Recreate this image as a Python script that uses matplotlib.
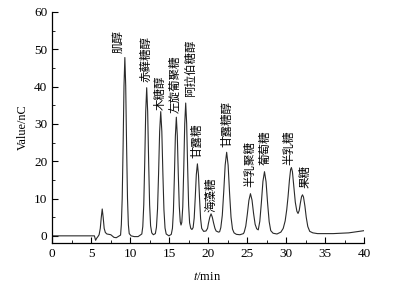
import matplotlib
matplotlib.use("Agg")
import matplotlib.pyplot as plt
from matplotlib.ticker import MultipleLocator

plt.rcParams['font.family'] = ['Liberation Serif', 'DejaVu Serif']
plt.rcParams['mathtext.fontset'] = 'stix'

# chromatogram trace: time (min), signal (nC)
trace_t = [0, 5.4, 5.55, 5.7, 5.85, 6.0, 6.15, 6.28, 6.4, 6.52, 6.65, 6.8, 7.0, 7.5, 7.9, 8.2, 8.5, 8.75,
           8.85, 8.96, 9.075, 9.19, 9.3, 9.41, 9.525, 9.64, 9.75, 9.86, 10.1, 10.5, 11.0, 11.35,
           11.475, 11.6, 11.725, 11.85, 11.975, 12.1, 12.225, 12.35, 12.475, 12.6, 12.75, 12.95,
           13.21, 13.35, 13.49, 13.625, 13.76, 13.9, 14.04, 14.175, 14.31, 14.45, 14.6, 14.95,
           15.25, 15.4, 15.525, 15.65, 15.775, 15.9, 16.025, 16.15, 16.275, 16.4, 16.5,
           16.6, 16.725, 16.85, 16.975, 17.1, 17.225, 17.35, 17.475, 17.6, 17.75, 17.9,
           18.05, 18.19, 18.325, 18.46, 18.6, 18.74, 18.875, 19.01, 19.15, 19.4,
           19.7, 19.9, 20.02, 20.19, 20.35, 20.51, 20.68, 20.85, 21.0, 21.3,
           21.45, 21.6, 21.79, 21.975, 22.16, 22.35, 22.54, 22.725, 22.91, 23.1, 23.3, 23.6, 24.05,
           24.5, 24.6, 24.8, 25.0, 25.2, 25.4, 25.6, 25.8, 26.0, 26.2, 26.4,
           26.6, 26.8, 27.0, 27.2, 27.4, 27.6, 27.8, 28.0, 28.3, 28.8,
           29.3, 29.6, 29.85, 30.05, 30.22, 30.4, 30.55, 30.65, 30.78, 30.95, 31.15, 31.35, 31.5,
           31.65, 31.8, 31.95, 32.07, 32.2, 32.38, 32.55, 32.75, 33.0, 33.4, 34.0, 36.0, 38.0, 40.0]
trace_v = [0.0, 0.0, -1.2, -0.6, -0.2, 0.3, 2.0, 5.0, 7.2, 5.0, 2.0, 0.9, 0.5, 0.3, -0.4, -0.5, -0.1, 0.2,
           3.0, 10.0, 23.9, 40.2, 47.8, 40.2, 23.9, 10.0, 3.0, 0.6, 0.0, -0.2, -0.2, 0.3,
           0.5, 2.5, 8.3, 19.9, 33.3, 39.7, 33.3, 19.9, 8.3, 2.7, 0.8, 0.3,
           0.6, 2.3, 7.2, 16.8, 28.0, 33.3, 28.0, 16.7, 7.0, 2.1, 0.5, 0.0,
           0.4, 2.0, 6.6, 15.9, 26.7, 31.8, 26.8, 16.5, 8.0, 3.8, 2.9,
           3.6, 7.8, 18.0, 30.0, 35.6, 30.0, 18.3, 8.2, 3.5, 2.0, 1.7,
           2.2, 4.8, 10.3, 16.4, 19.3, 16.3, 10.0, 4.6, 2.0, 1.2,
           1.3, 2.0, 3.4, 5.0, 5.9, 5.0, 3.4, 2.0, 1.3, 1.0,
           1.1, 2.2, 5.5, 11.8, 19.0, 22.4, 18.9, 11.4, 5.0, 1.8, 0.8, 0.4, 0.3,
           0.6, 1.0, 2.6, 5.8, 9.5, 11.3, 9.6, 6.0, 3.1, 1.9, 1.6,
           3.9, 8.9, 14.6, 17.2, 14.5, 8.7, 3.8, 1.4, 0.7, 0.5,
           1.0, 2.0, 4.0, 7.0, 10.5, 15.0, 17.8, 18.3, 17.2, 13.5, 9.0, 6.6, 6.0,
           6.8, 8.8, 10.5, 11.0, 10.4, 8.0, 5.0, 2.5, 1.2, 0.8, 0.6, 0.6, 0.8, 1.4]

# peak labels and their anchor positions (time, signal)
peak_names = ['肌醇', '赤藓糖醇', '木糖醇', '左旋葡聚糖', '阿拉伯糖醇', '甘露糖', '海藻糖',
              '甘露糖醇', '半乳聚糖', '葡萄糖', '半乳糖', '果糖']
label_t = [8.42, 12.05, 13.8, 15.75, 17.65, 18.5, 20.28, 22.35, 25.35, 27.27, 30.35, 32.4]
label_v = [49.1, 41.2, 33.8, 33.0, 37.3, 20.9, 6.4, 23.9, 13.1, 19.0, 19.0, 12.9]

x_ticks = [0, 5, 10, 15, 20, 25, 30, 35, 40]
y_ticks = [0, 10, 20, 30, 40, 50, 60]

fig = plt.figure(figsize=(3.95, 2.89), dpi=100)
ax = fig.add_axes([0.1324, 0.1581, 0.79, 0.8004])
ax.plot(trace_t, trace_v, color='#2a2a2a', lw=0.8)

for name, t, v in zip(peak_names, label_t, label_v):
    ax.text(t, v, name, rotation=90, ha='center', va='bottom', fontsize=8.3,
            family=['Noto Sans CJK SC', 'DejaVu Sans'], color='black')

ax.set_xlim(0, 40)
ax.set_ylim(-2, 60)
ax.set_xticks(x_ticks)
ax.set_yticks(y_ticks)
ax.xaxis.set_minor_locator(MultipleLocator(2.5))
ax.yaxis.set_minor_locator(MultipleLocator(5))
ax.tick_params(which='major', direction='in', length=4, width=0.8, labelsize=9.5)
ax.tick_params(which='minor', direction='in', length=2, width=0.6)
for s in ['top', 'right']:
    ax.spines[s].set_visible(False)
for s in ['left', 'bottom']:
    ax.spines[s].set_linewidth(0.9)

fig.text(22.5 / 395, 1 - 127 / 289, 'Value/nC', rotation=90, ha='center', va='center', fontsize=8.8)
fig.text(207 / 395, 1 - 277 / 289, r'$t$/min', ha='center', va='center', fontsize=9)

fig.savefig('out.png', dpi=100)
